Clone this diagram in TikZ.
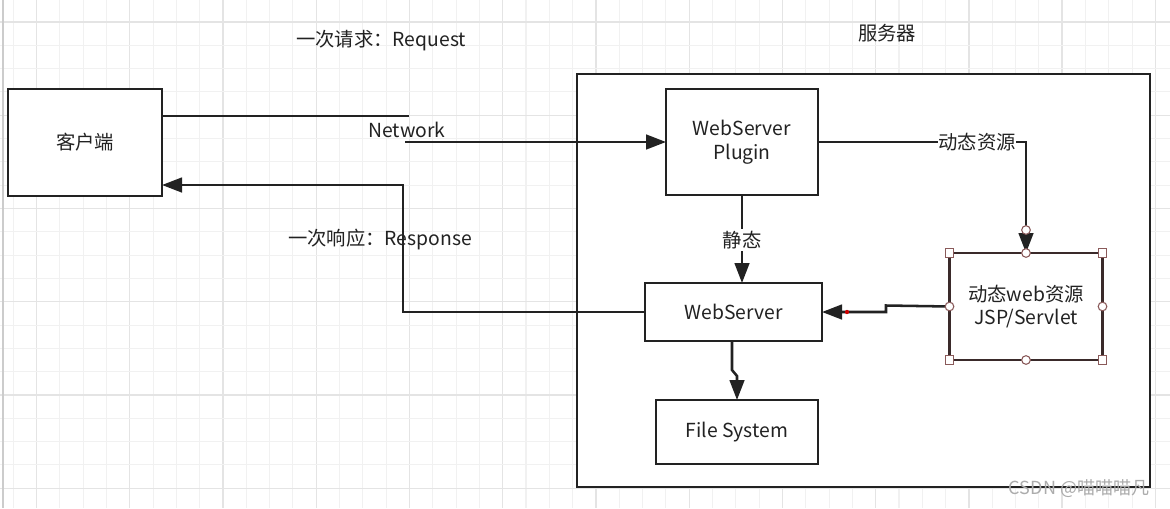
\documentclass[tikz,border=0pt]{standalone}
\usepackage{fontspec}
\setmainfont{Noto Sans CJK SC}
\usetikzlibrary{arrows.meta}
\definecolor{ink}{HTML}{222222}
\definecolor{gridminor}{HTML}{F1F1F1}
\definecolor{gridmajor}{HTML}{E4E4E4}
\definecolor{handle}{HTML}{8A5A5A}
\definecolor{dynborder}{HTML}{3A2A2A}
\begin{document}
\begin{tikzpicture}[x=0.75pt,y=-0.75pt,
  font=\fontsize{14.5}{18}\selectfont,
  box/.style={draw=ink,line width=2.1pt,fill=white,inner sep=0pt,outer sep=0pt,align=center,text=ink},
  conn/.style={draw=ink,line width=1.9pt},
  arr/.style={conn,-{Triangle[length=15pt,width=11pt]}},
  lbl/.style={text=ink,inner sep=1pt},
  hsq/.style={draw=handle,fill=white,line width=0.8pt,minimum size=6.5pt,inner sep=0pt},
  hci/.style={draw=handle,fill=white,line width=0.8pt,circle,minimum size=6.5pt,inner sep=0pt}]
\useasboundingbox (0,0) rectangle (1170,508);
\fill[white] (0,0) rectangle (1170,508);
% grid
\foreach \k in {-1,...,49} {
  \pgfmathsetmacro{\xx}{36.5+23.31*\k}
  \pgfmathtruncatemacro{\mm}{mod(\k+4,4)}
  \ifnum\mm=0 \draw[gridmajor,line width=1pt] (\xx,0) -- (\xx,508);
  \else \draw[gridminor,line width=0.8pt] (\xx,0) -- (\xx,508); \fi
}
\foreach \k in {-1,...,21} {
  \pgfmathsetmacro{\yy}{22+23.31*\k}
  \pgfmathtruncatemacro{\mm}{mod(\k+4,4)}
  \ifnum\mm=0 \draw[gridmajor,line width=1pt] (0,\yy) -- (1170,\yy);
  \else \draw[gridminor,line width=0.8pt] (0,\yy) -- (1170,\yy); \fi
}
\draw[gray!40,line width=2pt] (3,0) -- (3,508);

% server box
\node[box,minimum width=429.75pt,minimum height=309.75pt] (server) at (863.5,280.5) {};
\node[lbl] (serverlbl) at (887,33) {服务器};

% nodes
\node[box,minimum width=115.5pt,minimum height=80.25pt] (client) at (85,142.5) {客户端};
\node[box,minimum width=114pt,minimum height=79.5pt] (plugin) at (742,142) {WebServer\\Plugin};
\node[box,draw=dynborder,minimum width=114.75pt,minimum height=80.25pt,font=\fontsize{14.5}{17.5}\selectfont] (dyn) at (1026,306.5) {动态web资源\\JSP/Servlet};
\node[box,minimum width=132.75pt,minimum height=43.5pt] (ws) at (733.5,312) {WebServer};
\node[box,minimum width=121.5pt,minimum height=48pt] (fs) at (737,432) {File System};

% labels
\node[lbl] (req) at (381,41) {一次请求：Request};
\node[lbl] (resplbl) at (380,240) {一次响应：Response};
\node[lbl] (net) at (407,130) {Network};

% request
\coordinate (r1) at (409,116);
\coordinate (r2) at (405,142);
\draw[conn] (client.east |- r1) -- (r1);
\draw[arr] (r2) -- (plugin.west);

% response
\coordinate (rc) at (403,185);
\draw[arr] (ws.west) -| (rc) -- (client.east |- rc);

% dynamic
\draw[arr] (plugin.east) -| (dyn.north);
\node[lbl,fill=white,inner sep=0.5pt] (dynlbl) at (977,142) {动态资源};
\node[hci] (hc0) at (1026,230) {};

% static
\draw[arr] (plugin.south) -- (plugin.south |- ws.north);
\node[lbl,fill=white,inner sep=1.5pt] (stlbl) at (742,240) {静态};

% dyn -> ws
\coordinate (j1) at (886,305.5);
\coordinate (j2) at (886,312);
\draw[arr] (dyn.west) -- (j1) -- (j2) -- (ws.east |- j2);
\fill[red!80!black] (847,312) circle (1.6pt);

% ws -> fs
\coordinate (f1) at (732,370);
\coordinate (f2) at (737,376);
\draw[arr] (ws.south -| f1) -- (f1) -- (f2) -- (fs.north);

% handles on dyn
\foreach \a in {north west,north east,south west,south east}
  \node[hsq] at (dyn.\a) {};
\foreach \a in {north,south,east,west}
  \node[hci] at (dyn.\a) {};

% watermark
\node[text=gray!65,font=\fontsize{13.5}{15}\selectfont,inner sep=0pt] (wm) at (1079,489) {CSDN @喵喵喵凡};
\end{tikzpicture}
\end{document}
